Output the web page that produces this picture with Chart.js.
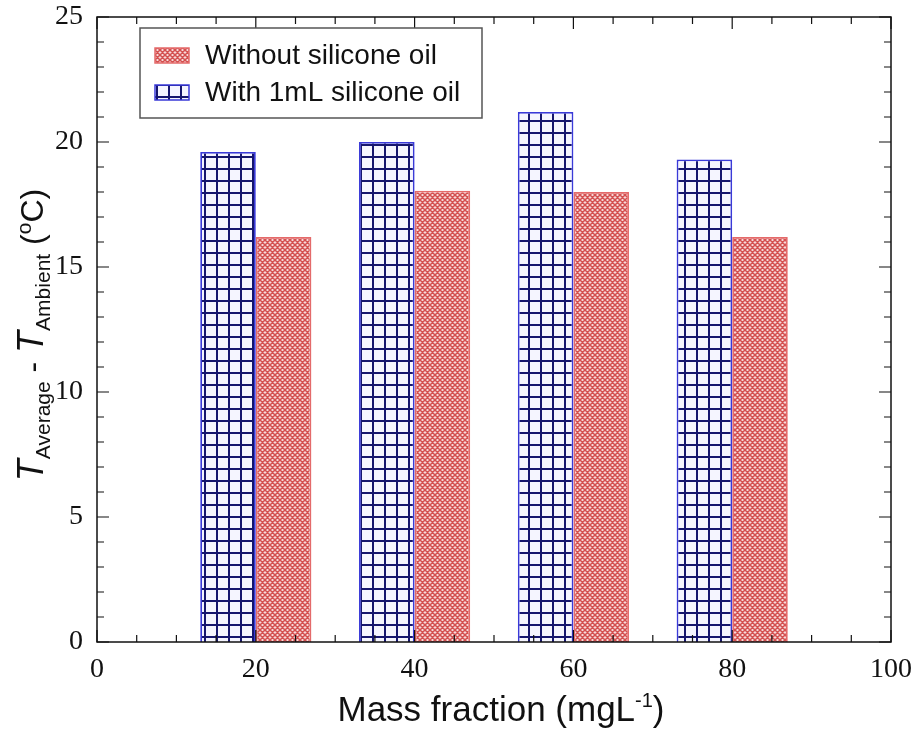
<!DOCTYPE html>
<html>
<head>
<meta charset="utf-8">
<script src="https://cdn.jsdelivr.net/npm/chart.js@4.4.1/dist/chart.umd.min.js"></script>
<style>
  html, body { margin: 0; padding: 0; background: #fff; }
  #wrap { width: 917px; height: 731px; }
</style>
</head>
<body>
<div id="wrap"><canvas id="chart" width="917" height="731"></canvas></div>
<script>
// data
const massFraction = [20, 40, 60, 80];
const withOil = [19.6, 20.0, 21.2, 19.3];
const withoutOil = [16.2, 18.05, 18.0, 16.2];
const xTickValues = [0, 20, 40, 60, 80, 100];
const yTickValues = [0, 5, 10, 15, 20, 25];
const seriesNames = ['Without silicone oil', 'With 1mL silicone oil'];

// fill patterns
function gridPattern() {
    const c = document.createElement('canvas');
    c.width = 12; c.height = 12;
    const g = c.getContext('2d');
    g.fillStyle = '#f5f5ff';
    g.fillRect(0, 0, 12, 12);
    g.strokeStyle = '#16166e';
    g.lineWidth = 2;
    g.beginPath();
    g.moveTo(1, 0); g.lineTo(1, 12);
    g.moveTo(0, 1); g.lineTo(12, 1);
    g.stroke();
    return g.createPattern(c, 'repeat');
}

function hatchPattern() {
    const c = document.createElement('canvas');
    c.width = 5; c.height = 5;
    const g = c.getContext('2d');
    g.fillStyle = '#f7dada';
    g.fillRect(0, 0, 5, 5);
    g.strokeStyle = '#d45050';
    g.lineWidth = 1.5;
    g.beginPath();
    for (let k = -5; k <= 10; k += 5) {
        g.moveTo(k, 0); g.lineTo(k + 5, 5);
        g.moveTo(k + 5, 0); g.lineTo(k, 5);
    }
    g.stroke();
    return g.createPattern(c, 'repeat');
}

const blueFill = gridPattern();
const redFill = hatchPattern();

// inward ticks on all four sides, frame, legend and axis titles
const decorations = {
    id: 'decorations',
    afterDraw(chart) {
        const ctx = chart.ctx;
        const a = chart.chartArea;
        const xs = chart.scales.x, ys = chart.scales.y;
        ctx.save();
        ctx.strokeStyle = '#111';
        ctx.lineWidth = 1.5;
        ctx.strokeRect(a.left, a.top, a.right - a.left, a.bottom - a.top);

        ctx.lineWidth = 1.2;
        ctx.beginPath();
        for (let v = 0; v <= 100; v += 5) {
            const px = xs.getPixelForValue(v);
            const len = v % 20 === 0 ? 12 : 7;
            ctx.moveTo(px, a.bottom); ctx.lineTo(px, a.bottom - len);
            ctx.moveTo(px, a.top); ctx.lineTo(px, a.top + len);
        }
        for (let v = 0; v <= 25; v += 1) {
            const py = ys.getPixelForValue(v);
            const len = v % 5 === 0 ? 12 : 7;
            ctx.moveTo(a.left, py); ctx.lineTo(a.left + len, py);
            ctx.moveTo(a.right, py); ctx.lineTo(a.right - len, py);
        }
        ctx.stroke();

        // legend
        ctx.fillStyle = '#fff';
        ctx.fillRect(140, 28, 342, 90);
        ctx.strokeStyle = '#555';
        ctx.lineWidth = 1.5;
        ctx.strokeRect(140, 28, 342, 90);
        const items = [
            { name: seriesNames[0], fill: redFill, border: '#e46a6a', y: 55 },
            { name: seriesNames[1], fill: blueFill, border: '#3a3ad8', y: 92 }
        ];
        ctx.font = '28px "Liberation Sans", "DejaVu Sans", sans-serif';
        ctx.textBaseline = 'middle';
        items.forEach(it => {
            ctx.fillStyle = it.fill;
            ctx.fillRect(155, it.y - 7, 34, 15);
            ctx.strokeStyle = it.border;
            ctx.lineWidth = 1.5;
            ctx.strokeRect(155, it.y - 7, 34, 15);
            ctx.fillStyle = '#111';
            ctx.fillText(it.name, 205, it.y + 1);
        });

        // x title
        const big = '35px "Liberation Sans", "DejaVu Sans", sans-serif';
        const sup = '20px "Liberation Sans", "DejaVu Sans", sans-serif';
        const xParts = [
            { t: 'Mass fraction (mgL', f: big, dy: 0 },
            { t: '-1', f: sup, dy: -14 },
            { t: ')', f: big, dy: 0 }
        ];
        drawParts(ctx, xParts, (a.left + a.right) / 2 + 7, 721, 0);

        // y title
        const it = 'italic 36px "Liberation Sans", "DejaVu Sans", sans-serif';
        const yBig = '32px "Liberation Sans", "DejaVu Sans", sans-serif';
        const sub = '21px "Liberation Sans", "DejaVu Sans", sans-serif';
        const yParts = [
            { t: 'T', f: it, dy: 0 },
            { t: 'Average', f: sub, dy: 7 },
            { t: ' - ', f: yBig, dy: 0 },
            { t: 'T', f: it, dy: 0 },
            { t: 'Ambient', f: sub, dy: 7 },
            { t: ' (', f: yBig, dy: 0 },
            { t: 'o', f: sub, dy: -12 },
            { t: 'C)', f: yBig, dy: 0 }
        ];
        drawParts(ctx, yParts, 43, 335, -Math.PI / 2);
        ctx.restore();
    }
};

function drawParts(ctx, parts, cx, cy, rot) {
    let total = 0;
    parts.forEach(p => { ctx.font = p.f; p.w = ctx.measureText(p.t).width; total += p.w; });
    ctx.save();
    ctx.translate(cx, cy);
    ctx.rotate(rot);
    ctx.fillStyle = '#111';
    ctx.textBaseline = 'alphabetic';
    ctx.textAlign = 'left';
    let x = -total / 2;
    parts.forEach(p => {
        ctx.font = p.f;
        ctx.fillText(p.t, x, p.dy);
        x += p.w;
    });
    ctx.restore();
}

new Chart(document.getElementById('chart'), {
    type: 'bar',
    data: {
        datasets: [{
            label: seriesNames[1],
            data: massFraction.map((m, i) => ({ x: m, y: withOil[i] })),
            backgroundColor: blueFill,
            borderColor: '#3a3ad8',
            borderWidth: 1.8,
            categoryPercentage: 0.7,
            barPercentage: 1.0
        }, {
            label: seriesNames[0],
            data: massFraction.map((m, i) => ({ x: m, y: withoutOil[i] })),
            backgroundColor: redFill,
            borderColor: '#e46a6a',
            borderWidth: 1.8,
            categoryPercentage: 0.7,
            barPercentage: 1.0
        }]
    },
    options: {
        responsive: false,
        animation: false,
        layout: { padding: { left: 0, right: 26, top: 17, bottom: 0 } },
        plugins: { legend: { display: false }, tooltip: { enabled: false } },
        scales: {
            x: {
                type: 'linear',
                min: 0, max: 100,
                offset: false,
                afterBuildTicks: (s) => { s.ticks = xTickValues.map(v => ({ value: v })); },
                afterFit: (s) => { s.height = 89; s.paddingLeft = 0; s.paddingRight = 0; },
                grid: { display: false, drawTicks: false },
                border: { display: false },
                ticks: {
                    padding: 11,
                    color: '#111',
                    font: { family: '"Liberation Serif", serif', size: 28 }
                }
            },
            y: {
                min: 0, max: 25,
                afterBuildTicks: (s) => { s.ticks = yTickValues.map(v => ({ value: v })); },
                afterFit: (s) => { s.width = 97; s.paddingTop = 0; s.paddingBottom = 0; },
                grid: { display: false, drawTicks: false },
                border: { display: false },
                ticks: {
                    padding: 14,
                    color: '#111',
                    font: { family: '"Liberation Serif", serif', size: 28 }
                }
            }
        }
    },
    plugins: [decorations]
});
</script>
</body>
</html>
